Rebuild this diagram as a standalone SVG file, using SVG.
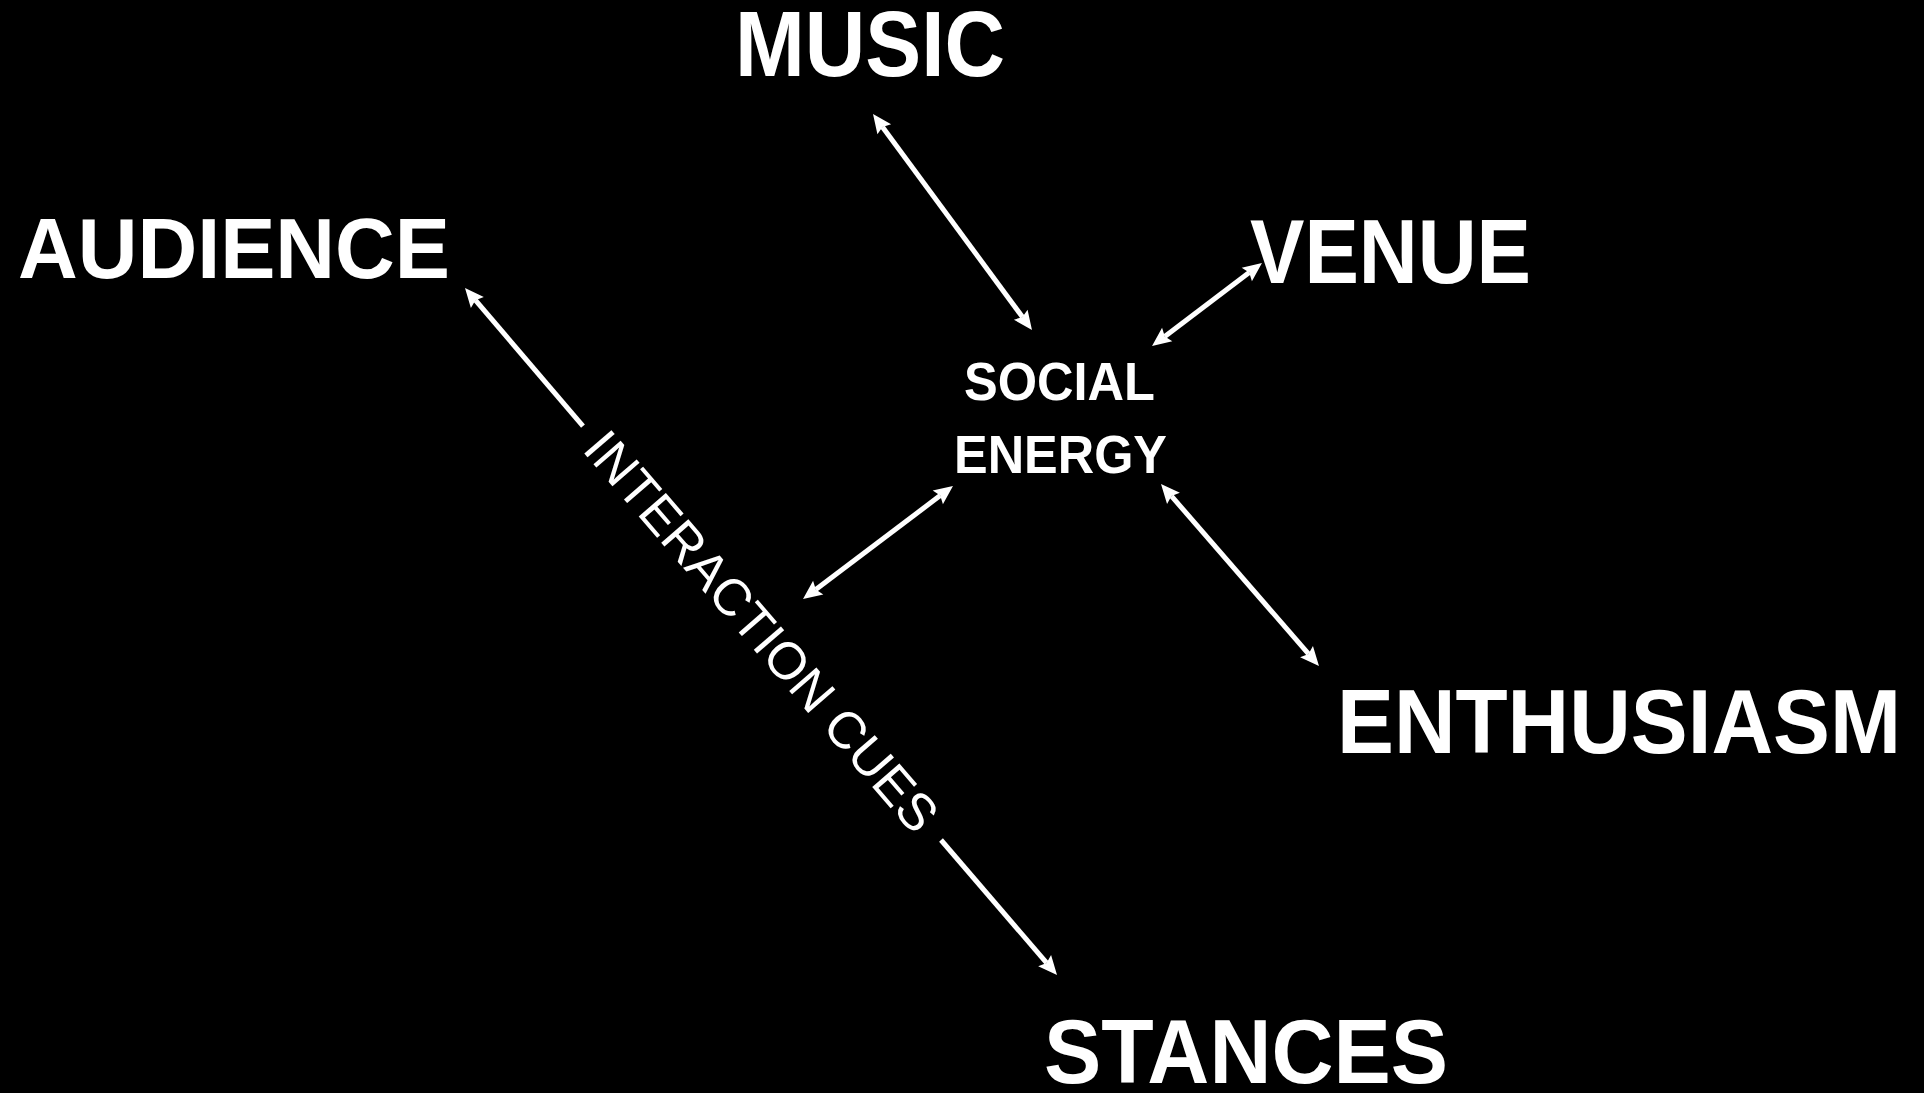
<svg xmlns="http://www.w3.org/2000/svg" width="1924" height="1093" viewBox="0 0 1924 1093">
  <style>
    .big { font-family: "Liberation Sans", "DejaVu Sans", sans-serif; font-weight: bold; fill: #ffffff; }
    .mid { font-family: "Liberation Sans", "DejaVu Sans", sans-serif; font-weight: bold; fill: #ffffff; font-size: 53px; }
    .cue { font-family: "Liberation Sans", "DejaVu Sans", sans-serif; font-weight: normal; fill: #ffffff; font-size: 52px; }
    .conn { stroke: #ffffff; stroke-width: 5; fill: none; }
  </style>
  <defs>
    <marker id="arrow" markerUnits="userSpaceOnUse" markerWidth="24" markerHeight="20" viewBox="-4 -10 24 20" refX="0" refY="0" orient="auto-start-reverse" overflow="visible">
      <path d="M-3,-8.5 L16,0 L-3,8.5 L0,0 Z" fill="#ffffff"/>
    </marker>
  </defs>
  <rect x="0" y="0" width="1924" height="1093" fill="#000000"/>

  <g id="connectors">
    <line class="conn" x1="882.5" y1="126.9" x2="1022.5" y2="317.1" marker-start="url(#arrow)" marker-end="url(#arrow)"/>
    <line class="conn" x1="1249.2" y1="272.6" x2="1164.8" y2="336.4" marker-start="url(#arrow)" marker-end="url(#arrow)"/>
    <line class="conn" x1="940.2" y1="495.6" x2="815.8" y2="589.4" marker-start="url(#arrow)" marker-end="url(#arrow)"/>
    <line class="conn" x1="1171.5" y1="496.1" x2="1308.5" y2="653.9" marker-start="url(#arrow)" marker-end="url(#arrow)"/>
    <line class="conn" x1="583" y1="426" x2="475.4" y2="300.2" marker-end="url(#arrow)"/>
    <line class="conn" x1="941" y1="840" x2="1046.6" y2="962.9" marker-end="url(#arrow)"/>
    <text class="cue" transform="translate(762,631) rotate(49.2)" x="0" y="18.5" text-anchor="middle" textLength="510" lengthAdjust="spacingAndGlyphs">INTERACTION CUES</text>
  </g>

  <g id="node-music">
    <text class="big" x="735" y="76" font-size="92" textLength="270" lengthAdjust="spacingAndGlyphs">MUSIC</text>
  </g>
  <g id="node-audience">
    <text class="big" x="18" y="278" font-size="86" textLength="432" lengthAdjust="spacingAndGlyphs">AUDIENCE</text>
  </g>
  <g id="node-venue">
    <text class="big" x="1250" y="283" font-size="91" textLength="281" lengthAdjust="spacingAndGlyphs">VENUE</text>
  </g>
  <g id="node-social-energy">
    <text class="mid" x="964" y="400" textLength="191" lengthAdjust="spacingAndGlyphs">SOCIAL</text>
    <text class="mid" x="954" y="473" textLength="213" lengthAdjust="spacingAndGlyphs">ENERGY</text>
  </g>
  <g id="node-enthusiasm">
    <text class="big" x="1337" y="753" font-size="91" textLength="564" lengthAdjust="spacingAndGlyphs">ENTHUSIASM</text>
  </g>
  <g id="node-stances">
    <text class="big" x="1044" y="1083" font-size="91" textLength="404" lengthAdjust="spacingAndGlyphs">STANCES</text>
  </g>
</svg>
